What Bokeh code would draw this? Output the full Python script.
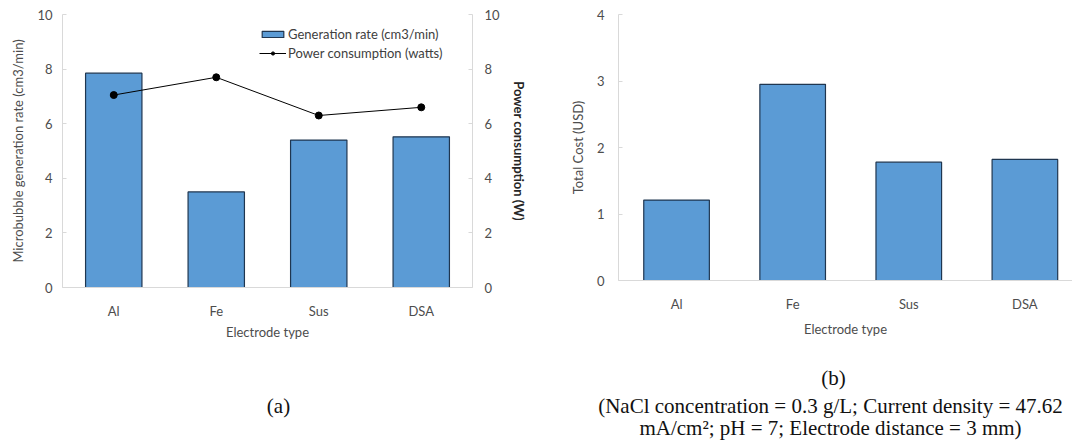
from bokeh.plotting import figure
from bokeh.models import (Range1d, LinearAxis, FixedTicker, Legend, LegendItem,
                          ColumnDataSource, FactorRange)
from bokeh.layouts import row, column
from bokeh.embed import file_html
from bokeh.resources import INLINE
from bokeh.core.properties import value

# ---------------- data ----------------
electrodes = ["Al", "Fe", "Sus", "DSA"]
generation_rate = [7.85, 3.50, 5.40, 5.52]      # cm3/min
power_consumption = [7.05, 7.70, 6.30, 6.60]    # watts
total_cost = [1.21, 2.95, 1.78, 1.82]           # USD

caption_a = "(a)"
caption_b = ["(b)",
             "(NaCl concentration = 0.3 g/L; Current density = 47.62",
             "mA/cm\u00b2; pH = 7; Electrode distance = 3 mm)"]

FONT = "Lato"
FS = "13px"
BAR_FILL = "#5b9bd5"
BAR_LINE = "#1f3650"
AXIS_COL = "#d9d9d9"
TXT = "#4d4d4d"


def style_axis(ax, standoff):
    ax.axis_line_color = AXIS_COL
    ax.major_tick_line_color = AXIS_COL
    ax.minor_tick_line_color = None
    ax.major_tick_in = 4
    ax.major_tick_out = 0
    ax.major_label_text_font = FONT
    ax.major_label_text_font_size = FS
    ax.major_label_text_color = TXT
    ax.major_label_standoff = standoff
    ax.axis_label_text_font = FONT
    ax.axis_label_text_font_size = FS
    ax.axis_label_text_color = TXT
    ax.axis_label_text_font_style = "normal"


# ---------------- chart (a) ----------------
src1 = ColumnDataSource(dict(x=electrodes, gen=generation_rate, pw=power_consumption))
p1 = figure(x_range=FactorRange(*electrodes), y_range=Range1d(0, 10),
            frame_width=410, frame_height=273,
            min_border_left=62, min_border_right=88, min_border_top=14, min_border_bottom=68,
            output_backend="svg", toolbar_location=None)
p1.extra_y_ranges = {"power": Range1d(0, 10)}
p1.outline_line_color = None
p1.xgrid.visible = False
p1.ygrid.visible = False

bars1 = p1.vbar(x="x", top="gen", width=0.55, source=src1,
                fill_color=BAR_FILL, line_color=BAR_LINE, line_width=1.2)
ln = p1.line(x="x", y="pw", source=src1, y_range_name="power",
             line_color="black", line_width=1)
pts = p1.scatter(x="x", y="pw", source=src1, y_range_name="power",
                 size=7, fill_color="black", line_color="black")

style_axis(p1.yaxis[0], 10)
p1.yaxis[0].ticker = FixedTicker(ticks=[0, 2, 4, 6, 8, 10])
p1.yaxis[0].axis_label = "Microbubble generation rate (cm3/min)"
p1.yaxis[0].axis_label_standoff = 8

ax_r = LinearAxis(y_range_name="power", ticker=FixedTicker(ticks=[0, 2, 4, 6, 8, 10]),
                  axis_label="Power consumption (W)")
style_axis(ax_r, 12)
ax_r.axis_label_standoff = 8
ax_r.axis_label_text_font_style = "bold"
ax_r.axis_label_text_color = "#262626"
p1.add_layout(ax_r, "right")

xa = p1.xaxis[0]
style_axis(xa, 15)
xa.major_tick_line_color = None
xa.axis_label = "Electrode type"
xa.axis_label_standoff = 2

legend = Legend(items=[LegendItem(label="Generation rate (cm3/min)", renderers=[bars1]),
                       LegendItem(label="Power consumption (watts)", renderers=[ln, pts])],
                location="top_right")
legend.border_line_color = None
legend.background_fill_alpha = 0
legend.label_text_font = FONT
legend.label_text_font_size = FS
legend.label_text_color = "#404040"
legend.glyph_width = 27
legend.glyph_height = 8
legend.label_height = 19
legend.label_width = 174
legend.label_standoff = 2
legend.spacing = 0
legend.padding = 0
legend.margin = 10
p1.add_layout(legend, "center")

# ---------------- chart (b) ----------------
xpos = [i + 0.5 for i in range(len(electrodes))]
src2 = ColumnDataSource(dict(x=xpos, cost=total_cost))
p2 = figure(x_range=Range1d(0, 3.91), y_range=Range1d(0, 4),
            frame_width=454, frame_height=266,
            min_border_left=58, min_border_right=0, min_border_top=12, min_border_bottom=77,
            output_backend="svg", toolbar_location=None)
p2.outline_line_color = None
p2.xgrid.visible = False
p2.ygrid.visible = False
p2.vbar(x="x", top="cost", width=0.565, source=src2,
        fill_color=BAR_FILL, line_color=BAR_LINE, line_width=1.2)

ya2 = p2.yaxis[0]
style_axis(ya2, 14)
ya2.ticker = FixedTicker(ticks=[0, 1, 2, 3, 4])
ya2.axis_label = "Total Cost (USD)"
ya2.axis_label_standoff = 8

xa2 = p2.xaxis[0]
style_axis(xa2, 15)
xa2.major_tick_line_color = None
xa2.ticker = FixedTicker(ticks=xpos)
xa2.major_label_overrides = {x: n for x, n in zip(xpos, electrodes)}
xa2.axis_label = "Electrode type"
xa2.axis_label_standoff = 6

# ---------------- captions ----------------
p3 = figure(x_range=Range1d(0, 1072), y_range=Range1d(86, 0),
            frame_width=1072, frame_height=86,
            min_border=0, output_backend="svg", toolbar_location=None)
p3.axis.visible = False
p3.xgrid.visible = False
p3.ygrid.visible = False
p3.outline_line_color = None
cap_src = ColumnDataSource(dict(
    x=[278, 833, 830, 830],
    y=[50, 22, 50, 72],
    t=[caption_a] + caption_b))
p3.text(x="x", y="y", text="t", source=cap_src, text_font=value("Liberation Serif"),
        text_font_size="21px", text_color="#111111",
        text_align="center", text_baseline="middle")

layout = column(row(p1, p2), p3)
open("out.html", "w").write(file_html(layout, INLINE))
